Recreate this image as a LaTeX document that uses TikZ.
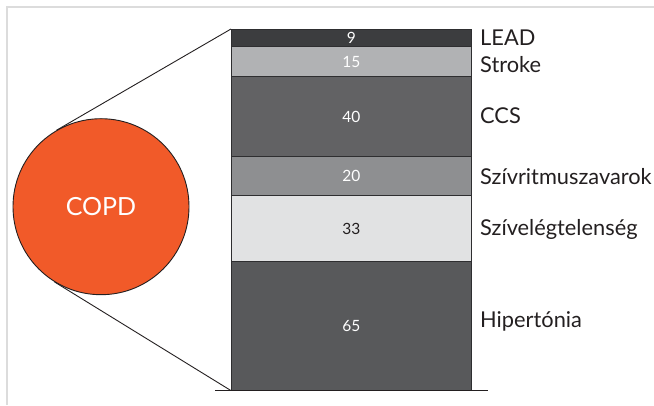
\documentclass[tikz,border=0pt]{standalone}
\usepackage{fontspec}
\setmainfont{Lato}
\usetikzlibrary{calc}
\definecolor{framegray}{HTML}{DCDCDC}
\definecolor{segline}{HTML}{2E2E30}
\definecolor{cLead}{HTML}{3C3D3F}
\definecolor{cStroke}{HTML}{B1B2B4}
\definecolor{cCCS}{HTML}{626264}
\definecolor{cRitm}{HTML}{8E8F91}
\definecolor{cElegt}{HTML}{E1E2E3}
\definecolor{cHiper}{HTML}{58595B}
\definecolor{copdorange}{HTML}{F15A29}
\definecolor{labeltext}{HTML}{231F20}
\begin{document}
\begin{tikzpicture}[x=1pt,y=1pt,
  seg/.style={draw=segline, line width=0.8pt, minimum width=240.7pt,
    inner sep=0pt, outer sep=0pt, text=white, anchor=north west,
    font=\fontsize{15.5}{15.5}\selectfont},
  lbl/.style={anchor=base west, inner sep=0pt, text=labeltext,
    font=\fontsize{21.8}{21.8}\selectfont},
  link/.style={draw=labeltext, line width=0.9pt}]
\useasboundingbox (0,0) rectangle (654,405);
% light frame on the top and left edges
\draw[framegray, line width=1.5pt] (7,0) -- (7,398) -- (654,398);

% stacked bar
\node[seg, fill=cLead,  minimum height=17.9pt]  (s9)  at (231,376) {9};
\node[seg, fill=cStroke, minimum height=29.8pt] (s15) at (s9.south west) {15};
\node[seg, fill=cCCS,   minimum height=79.5pt]  (s40) at (s15.south west) {40};
\node[seg, fill=cRitm,  minimum height=39.7pt]  (s20) at (s40.south west) {20};
\node[seg, fill=cElegt, minimum height=65.6pt, text=labeltext] (s33) at (s20.south west) {33};
\node[seg, fill=cHiper, minimum height=129.1pt] (s65) at (s33.south west) {65};

% base line under the bar
\coordinate (baseL) at ($(s65.south west)+(-16,0)$);
\coordinate (baseR) at ($(s65.south east)+(16,0)$);
\draw[link] (baseL) -- (baseR);

% circle
\node[circle, draw=labeltext, line width=0.9pt, fill=copdorange,
  minimum size=176pt, inner sep=0pt, text=white,
  font=\fontsize{25}{25}\selectfont] (copd) at (101,198.3) {COPD};

% tangent connectors to the bar corners
\draw[link] (tangent cs:node=copd, point={(s9.north west)}, solution=1) -- (s9.north west);
\draw[link] (tangent cs:node=copd, point={(s65.south west)}, solution=2) -- (s65.south west);

% labels
\node[lbl] (lLead)  at (480,359.3) {LEAD};
\node[lbl] (lStroke) at (480,332.7) {Stroke};
\node[lbl] (lCCS)   at (480,281.7) {CCS};
\node[lbl] (lRitm)  at (480,220)   {Szívritmuszavarok};
\node[lbl] (lElegt) at (480,169)   {Szívelégtelenség};
\node[lbl] (lHiper) at (480,77.7)  {Hipertónia};
\end{tikzpicture}
\end{document}
